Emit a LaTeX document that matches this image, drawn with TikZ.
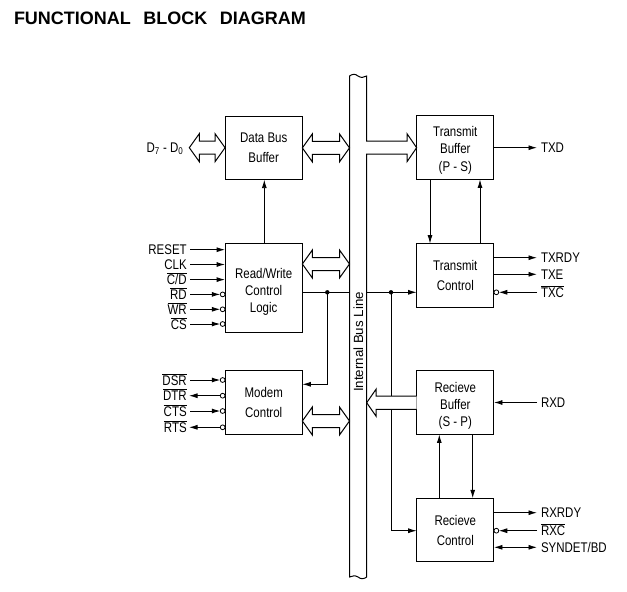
\documentclass[tikz,border=0pt]{standalone}
\usepackage{fontspec}
\setmainfont{Liberation Sans}[FakeStretch=0.82]
\newfontfamily\plainsans{Liberation Sans}
\usetikzlibrary{arrows.meta,calc}
\newcommand\ovl[1]{\ensuremath{\overline{\mbox{#1}}}}
\newcommand\dblfat[2]{\draw[fat] let \p1=#1, \p2=#2 in (\x1,\y1) -- (\x1+10pt,\y1+14pt) -- (\x1+10pt,\y1+6.5pt) -- (\x2-10pt,\y1+6.5pt) -- (\x2-10pt,\y1+14pt) -- (\x2,\y1) -- (\x2-10pt,\y1-14pt) -- (\x2-10pt,\y1-6.5pt) -- (\x1+10pt,\y1-6.5pt) -- (\x1+10pt,\y1-14pt) -- cycle;}
\begin{document}
\begin{tikzpicture}[x=1pt,y=-1pt,
  every node/.style={inner sep=0pt, outer sep=0pt},
  blk/.style={draw, line width=1pt, minimum width=77.3pt, minimum height=63.5pt, align=center, font=\fontsize{14}{20}\selectfont},
  blktxt/.style={align=center, font=\fontsize{14}{17.3}\selectfont},
  sig/.style={line width=0.9pt, -{Latex[length=8.5pt,width=5pt]}},
  sigb/.style={line width=0.9pt, {Latex[length=8.5pt,width=5pt]}-{Latex[length=8.5pt,width=5pt]}},
  wire/.style={line width=0.9pt},
  fat/.style={line width=1pt, fill=white, line join=miter},
  bub/.style={line width=0.8pt, fill=white},
  pinL/.style={anchor=base east, yshift=-5pt, font=\fontsize{14}{15}\selectfont},
  pinR/.style={anchor=base west, yshift=-5pt, font=\fontsize{14}{15}\selectfont}
]
\fill[white] (0,0) rectangle (627,592);
\useasboundingbox (0,0) rectangle (627,592);

\node[anchor=base west, font=\plainsans\bfseries\fontsize{18}{20}\selectfont] (title) at (14,24) {FUNCTIONAL\hspace{12.5pt}BLOCK\hspace{12.5pt}DIAGRAM};

% blocks
\node[blk] (dbb) at (263.7,147.9) {Data Bus\\Buffer};
\node[blk, minimum height=89.4pt] (rw) at (263.7,288) {};
\node[blktxt] (rwt) at ([yshift=-4pt]rw.center) {Read/Write\\Control\\Logic};
\node[blk] (mc) at (263.7,402.7) {Modem\\Control};
\node[blk] (tb) at (455.3,147.7) {};
\node[blktxt] (tbt) at ([yshift=-2.5pt]tb.center) {Transmit\\Buffer\\(P - S)};
\node[blk] (tc) at (455.3,275.3) {Transmit\\Control};
\node[blk] (rb) at (455.3,402.7) {};
\node[blktxt] (rbt) at ([yshift=-3pt]rb.center) {Recieve\\Buffer\\(S - P)};
\node[blk] (rc) at (455.3,530) {Recieve\\Control};

% internal bus
\node[minimum width=17.2pt, minimum height=501pt] (bus) at (358.1,326.5) {};
\draw[fat] (349.5,577) -- (349.5,76) .. controls (352.5,74) and (355,73.5) .. (358,76) .. controls (361,78.5) and (364,77) .. (366.7,76)
  -- (366.7,141.2) -- (407,141.2) -- (407,133.7) -- (tb.west) -- (407,161.7) -- (407,154.2) -- (366.7,154.2) -- (366.7,577)
  .. controls (364,579) and (361,579.5) .. (358,577) .. controls (355,575) and (352.5,576) .. (349.5,577) -- cycle;
\node[rotate=90, font=\plainsans\fontsize{13.3}{15}\selectfont] (busl) at (358.4,342) {Internal Bus Line};

% wires through junctions
\coordinate (j1) at (327.3,292.3);
\coordinate (j1b) at (327.3,384.3);
\draw[wire] (j1 -| rw.east) -- (j1 -| bus.west);
\draw[sig] (j1) -- (j1b) -- (j1b -| mc.east);
\fill (j1) circle (2.2pt);

\coordinate (j2) at (391,292.3);
\coordinate (j2b) at (391,530.7);
\draw[sig] (j2 -| bus.east) -- (j2 -| tc.west);
\draw[sig] (j2) -- (j2b) -- (j2b -| rc.west);
\fill (j2) circle (2.2pt);

% fat arrows
\coordinate (d7) at (189.3,147.7);
\dblfat{(d7)}{(d7 -| dbb.west)}
\dblfat{(dbb.east)}{(dbb.east -| bus.west)}
\dblfat{([yshift=24pt]rw.east)}{([yshift=24pt]rw.east -| bus.west)}
\dblfat{([yshift=-18.3pt]mc.east)}{([yshift=-18.3pt]mc.east -| bus.west)}
\draw[fat] let \p1=(rb.west), \p2=(rb.west -| bus.east) in (\x1,\y1+6.7pt) -- (\x2+9.5pt,\y1+6.7pt) -- (\x2+9.5pt,\y1+13.7pt) -- (\x2,\y1) -- (\x2+9.5pt,\y1-13.7pt) -- (\x2+9.5pt,\y1-6.7pt) -- (\x1,\y1-6.7pt);

\node[pinL] (ld7) at (183.3,147.7) {D\textsubscript{7} - D\textsubscript{0}};

% block-to-block arrows
\draw[sig] ([xshift=0.6pt]rw.north) -- ([xshift=0.6pt]dbb.south);
\draw[sig] ([xshift=-25.3pt]tb.south) -- ([xshift=-25.3pt]tc.north);
\draw[sig] ([xshift=24.7pt]tc.north) -- ([xshift=24.7pt]tb.south);
\draw[sig] ([xshift=-16pt]rc.north) -- ([xshift=-16pt]rb.south);
\draw[sig] ([xshift=17.4pt]rb.south) -- ([xshift=17.4pt]rc.north);

% Read/Write pins
\coordinate (pReset) at (190,249.7);
\coordinate (pClk) at (190,264.5);
\coordinate (pCd) at (190,279.6);
\coordinate (pRd) at (190,294.4);
\coordinate (pWr) at (190,309.3);
\coordinate (pCs) at (190,324);
\node[pinL] (lReset) at (186.7,249.7) {RESET};
\node[pinL] (lClk) at (186.7,264.5) {CLK};
\node[pinL] (lCd) at (186.7,279.6) {\ovl{C/D}};
\node[pinL] (lRd) at (186.7,294.4) {\ovl{RD}};
\node[pinL] (lWr) at (186.7,309.3) {\ovl{WR}};
\node[pinL] (lCs) at (186.7,324) {\ovl{CS}};
\draw[sig] (pReset) -- (pReset -| rw.west);
\draw[sig] (pClk) -- (pClk -| rw.west);
\draw[sig] (pCd) -- (pCd -| rw.west);
\foreach \p in {pRd,pWr,pCs}{
  \draw[sig] (\p) -- ([xshift=-4.8pt]\p -| rw.west);
  \draw[bub] ([xshift=-2.4pt]\p -| rw.west) circle (2.4pt);
}

% Modem pins
\coordinate (pDsr) at (190,380);
\coordinate (pDtr) at (189,395.7);
\coordinate (pCts) at (190,411);
\coordinate (pRts) at (189,427.3);
\node[pinL] (lDsr) at (186.7,380) {\ovl{DSR}};
\node[pinL] (lDtr) at (186.7,395.7) {\ovl{DTR}};
\node[pinL] (lCts) at (186.7,411) {\ovl{CTS}};
\node[pinL] (lRts) at (186.7,427.3) {\ovl{RTS}};
\foreach \p in {pDsr,pCts}{
  \draw[sig] (\p) -- ([xshift=-4.8pt]\p -| mc.west);
  \draw[bub] ([xshift=-2.4pt]\p -| mc.west) circle (2.4pt);
}
\foreach \p in {pDtr,pRts}{
  \draw[sig] ([xshift=-4.8pt]\p -| mc.west) -- (\p);
  \draw[bub] ([xshift=-2.4pt]\p -| mc.west) circle (2.4pt);
}

% Transmit pins
\coordinate (pTxd) at (537,147.7);
\coordinate (pTxrdy) at (537,257.7);
\coordinate (pTxe) at (537,274.3);
\coordinate (pTxc) at (537,292.3);
\node[pinR] (lTxd) at (541,147.7) {TXD};
\node[pinR] (lTxrdy) at (541,257.7) {TXRDY};
\node[pinR] (lTxe) at (541,274.3) {TXE};
\node[pinR] (lTxc) at (541,292.3) {\ovl{TXC}};
\draw[sig] (pTxd -| tb.east) -- (pTxd);
\draw[sig] (pTxrdy -| tc.east) -- (pTxrdy);
\draw[sig] (pTxe -| tc.east) -- (pTxe);
\draw[sig] (pTxc) -- ([xshift=4.8pt]pTxc -| tc.east);
\draw[bub] ([xshift=2.4pt]pTxc -| tc.east) circle (2.4pt);

% Receive pins
\coordinate (pRxd) at (537,402.5);
\coordinate (pRxrdy) at (537,512.7);
\coordinate (pRxc) at (537,530.7);
\coordinate (pSyn) at (537,547.3);
\node[pinR] (lRxd) at (541,402.5) {RXD};
\node[pinR] (lRxrdy) at (541,512.7) {RXRDY};
\node[pinR] (lRxc) at (541,530.7) {\ovl{RXC}};
\node[pinR] (lSyn) at (541,547.3) {SYNDET/BD};
\draw[sig] (pRxd) -- (pRxd -| rb.east);
\draw[sig] (pRxrdy -| rc.east) -- (pRxrdy);
\draw[sig] (pRxc) -- ([xshift=4.8pt]pRxc -| rc.east);
\draw[bub] ([xshift=2.4pt]pRxc -| rc.east) circle (2.4pt);
\draw[sigb] (pSyn -| rc.east) -- (pSyn);
\end{tikzpicture}
\end{document}
